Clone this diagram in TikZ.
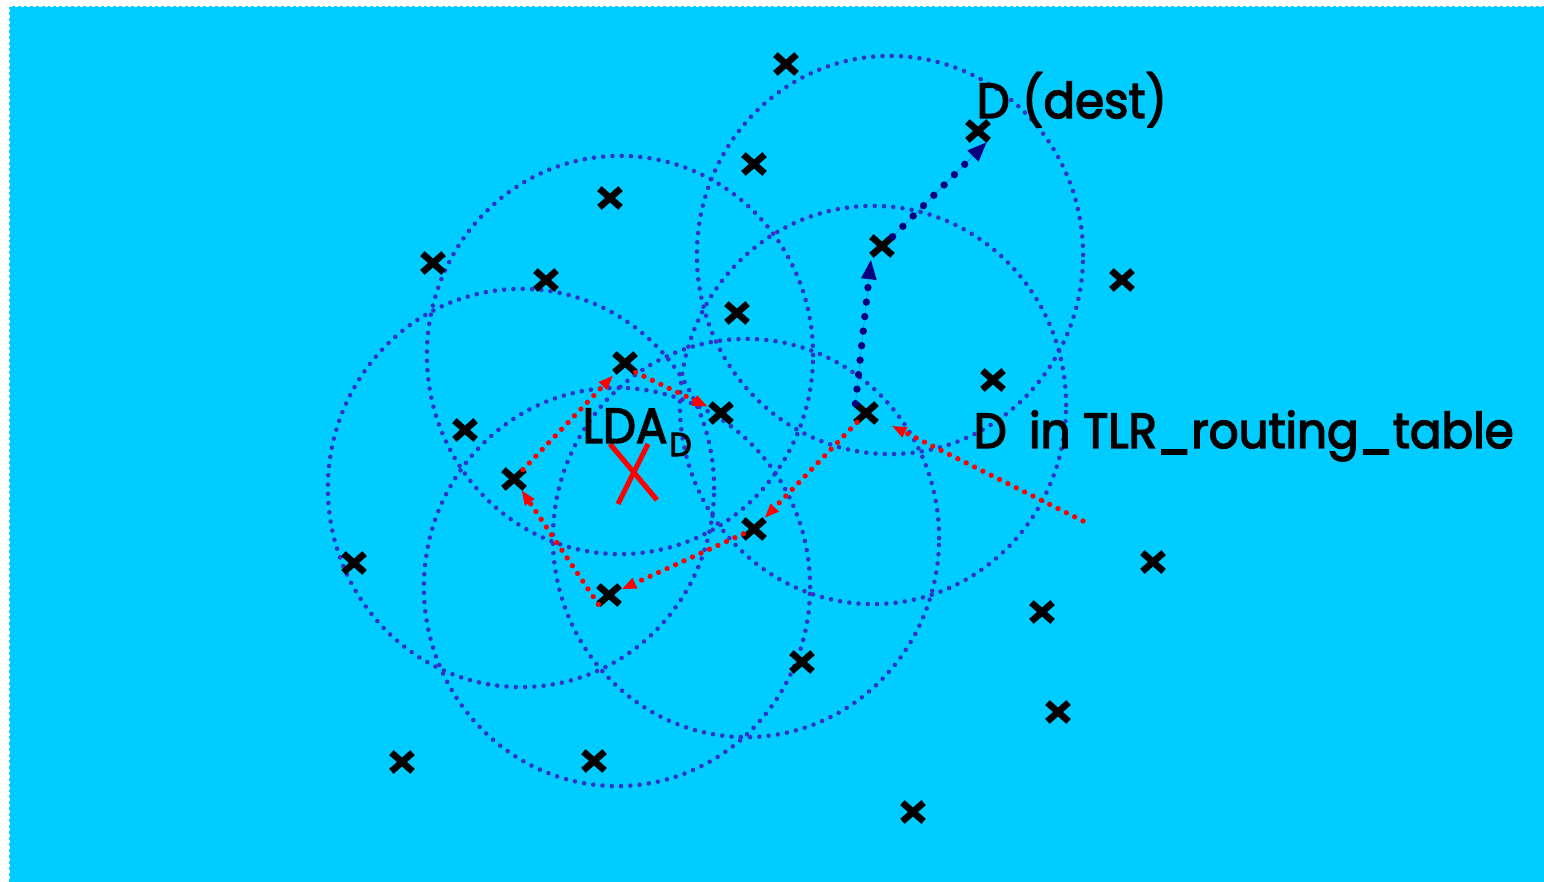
\documentclass[tikz,border=0pt]{standalone}
\usepackage{fontspec}
\setmainfont{Poppins}[FakeBold=3, FakeStretch=0.95]
\usetikzlibrary{arrows.meta,shapes.misc}
\definecolor{sky}{HTML}{00CCFF}
\definecolor{ring}{HTML}{3333CC}
\definecolor{hopred}{HTML}{FF0000}
\definecolor{hopnavy}{HTML}{000080}
\begin{document}
\begin{tikzpicture}[x=0.01cm, y=-0.01cm,
  sensor/.style={cross out, draw=black, line width=1.9pt,
    minimum width=0.145cm, minimum height=0.12cm, inner sep=0pt},
  radiorange/.style={draw=ring, line width=1.3pt, line cap=round,
    dash pattern=on 0pt off 2.64pt},
  redhop/.style={draw=hopred, line width=1.5pt, line cap=round,
    dash pattern=on 0pt off 2.65pt,
    -{Triangle[length=4.2pt, width=3pt]}},
  navyhop/.style={draw=hopnavy, fill=hopnavy, line width=2.1pt, line cap=round,
    dash pattern=on 0pt off 4.15pt,
    -{Triangle[length=5.8pt, width=4pt]}},
  caption/.style={anchor=base west, inner sep=0pt, text=black,
    font=\fontsize{14}{16}\selectfont},
]
% canvas
\useasboundingbox (0,0) rectangle (1544,882);
\fill[white] (0,0) rectangle (1544,882);
\fill[sky] (9,6) rectangle (1560,900);
\draw[white, line width=0.6pt, dash pattern=on 0.85pt off 0.85pt]
  (1560,6) -- (9,6) -- (9,900);

% radio ranges
\draw[radiorange] (890,255) ellipse [x radius=1.93cm, y radius=1.99cm];
\draw[radiorange] (873,405) ellipse [x radius=1.93cm, y radius=1.99cm];
\draw[radiorange] (620,355) ellipse [x radius=1.93cm, y radius=1.99cm];
\draw[radiorange] (521,488) ellipse [x radius=1.93cm, y radius=1.99cm];
\draw[radiorange] (617,587) ellipse [x radius=1.93cm, y radius=1.99cm];
\draw[radiorange] (746,538) ellipse [x radius=1.93cm, y radius=1.99cm];

% nodes of the network
\node[sensor] (n01) at (786,64) {};
\node[sensor] (n02) at (754,164) {};
\node[sensor] (n03) at (978,131) {};
\node[sensor] (n04) at (610,198) {};
\node[sensor] (n05) at (433,263) {};
\node[sensor] (n06) at (546,280) {};
\node[sensor] (n07) at (882,246) {};
\node[sensor] (n08) at (1122,280) {};
\node[sensor] (n09) at (737,313) {};
\node[sensor] (n10) at (625,363) {};
\node[sensor] (n11) at (993,380) {};
\node[sensor] (n12) at (721,413) {};
\node[sensor] (n13) at (866,413) {};
\node[sensor] (n14) at (465,430) {};
\node[sensor] (n15) at (514,479) {};
\node[sensor] (n16) at (754,529) {};
\node[sensor] (n17) at (1153,562) {};
\node[sensor] (n18) at (354,563) {};
\node[sensor] (n19) at (609,595) {};
\node[sensor] (n20) at (1042,612) {};
\node[sensor] (n21) at (802,662) {};
\node[sensor] (n22) at (1058,712) {};
\node[sensor] (n23) at (402,762) {};
\node[sensor] (n24) at (594,761) {};
\node[sensor] (n25) at (913,812) {};

% location of the LDA
\draw[hopred, line width=1.45pt] (610,444) -- (657,500);
\draw[hopred, line width=1.45pt] (648,444) -- (618,504);

% captions
\node[caption] (dest) at (976,118) {D (dest)};
\node[caption] (intable) at (973,448) {D\hspace{0.2em} in TLR\_routing\_table};
\node[caption] (lda) at (582,443) {LDA\hspace{0.04em}\raisebox{-3.7pt}{\fontsize{9.4}{10}\selectfont D}};

% query travelling around the LDA
\coordinate (entry) at (1083,521);
\draw[redhop, shorten >=4.8pt] (entry) -- (n13);
\draw[redhop, shorten >=0.6pt] (n13) -- (n16);
\draw[redhop, shorten >=0.6pt] (n16) -- (n19);
\draw[redhop, shorten >=0.6pt] (n19.south west) -- (n15);
\draw[redhop, shorten >=1.2pt] (n15) -- (n10);
\draw[redhop, shorten >=0.8pt] (n10.south east) -- (n12);

% route to the destination
\draw[navyhop, shorten >=1pt] (n13.north west) -- (n07.south west);
\draw[navyhop, shorten >=0.5pt] (n07.north east) -- (n03.south east);
\end{tikzpicture}
\end{document}
